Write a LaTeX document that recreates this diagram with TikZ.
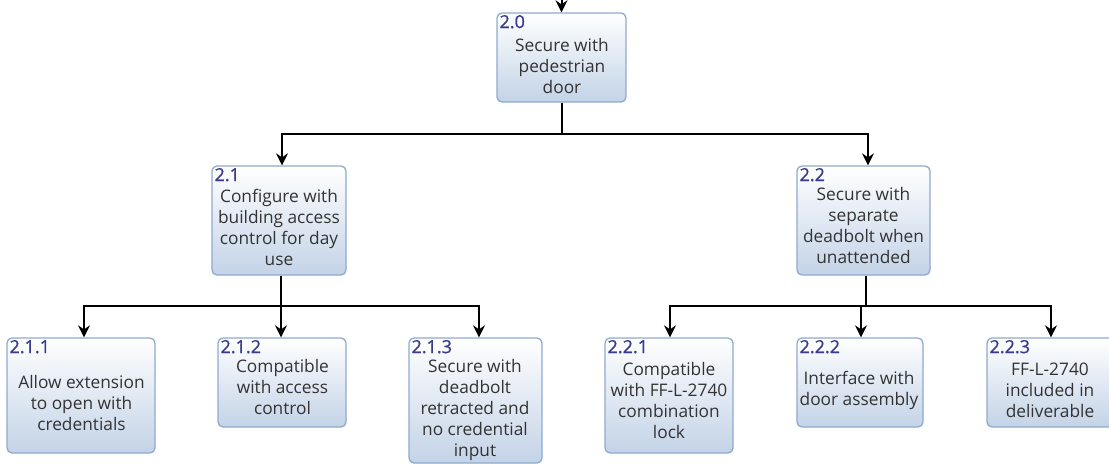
\documentclass[tikz,border=0pt]{standalone}
\usepackage{fontspec}
\setmainfont{Open Sans}
\newfontfamily\numfont[FakeBold=0.8]{Open Sans}
\usetikzlibrary{arrows.meta,calc}

\definecolor{boxedge}{HTML}{8EAACE}
\definecolor{boxbot}{HTML}{C3D3E7}
\definecolor{numblue}{HTML}{3A3A8E}
\definecolor{txtgray}{HTML}{333333}

\begin{document}
\begin{tikzpicture}[x=1pt,y=-1pt,
  box/.style={draw=boxedge, line width=1.3pt, rounded corners=5pt,
    top color=white, bottom color=boxbot, inner sep=0pt},
  body/.style={align=center, text=txtgray, inner sep=0pt,
    font=\fontsize{17.3}{21}\selectfont},
  num/.style={anchor=north west, text=numblue, inner sep=0pt,
    font=\numfont\fontsize{18}{18}\selectfont},
  wire/.style={line width=2pt, line join=miter},
  arr/.style={wire, -{Stealth[length=12pt,width=12pt,inset=4pt]}}]

\useasboundingbox (0,0) rectangle (1109,464);

% boxes
\node[box, minimum width=129pt, minimum height=89pt]  (n20)  at (561.5,57.5) {};
\node[box, minimum width=134pt, minimum height=109pt] (n21)  at (279,220.5) {};
\node[box, minimum width=133pt, minimum height=109pt] (n22)  at (863.5,220.5) {};
\node[box, minimum width=148pt, minimum height=115pt] (n211) at (81,395.5) {};
\node[box, minimum width=128pt, minimum height=89pt]  (n212) at (282,382.5) {};
\node[box, minimum width=133pt, minimum height=125pt] (n213) at (475.5,400.5) {};
\node[box, minimum width=128pt, minimum height=115pt] (n221) at (669,395.5) {};
\node[box, minimum width=126pt, minimum height=89pt]  (n222) at (860,382.5) {};
\node[box, minimum width=128pt, minimum height=89pt]  (n223) at (1051,382.5) {};

% numbers
\node[num] (l20)  at ($(n20.north west)+(3,2.5)$)  {2.0};
\node[num] (l21)  at ($(n21.north west)+(3,2.5)$)  {2.1};
\node[num] (l22)  at ($(n22.north west)+(3,2.5)$)  {2.2};
\node[num] (l211) at ($(n211.north west)+(3,2.5)$) {2.1.1};
\node[num] (l212) at ($(n212.north west)+(3,2.5)$) {2.1.2};
\node[num] (l213) at ($(n213.north west)+(3,2.5)$) {2.1.3};
\node[num] (l221) at ($(n221.north west)+(3,2.5)$) {2.2.1};
\node[num] (l222) at ($(n222.north west)+(3,2.5)$) {2.2.2};
\node[num] (l223) at ($(n223.north west)+(3,2.5)$) {2.2.3};

% texts
\node[body] (t20)  at ($(n20.center)+(0.5,8.5)$)  {Secure with\\pedestrian\\door};
\node[body] (t21)  at ($(n21.center)+(0,6.5)$)    {Configure with\\building access\\control for day\\use};
\node[body] (t22)  at ($(n22.center)+(0,5.5)$)    {Secure with\\separate\\deadbolt when\\unattended};
\node[body] (t211) at ($(n211.center)+(0.5,7.5)$) {Allow extension\\to open with\\credentials};
\node[body] (t212) at ($(n212.center)+(0.5,5)$)   {Compatible\\with access\\control};
\node[body] (t213) at ($(n213.center)+(-0.5,9.5)$){Secure with\\deadbolt\\retracted and\\no credential\\input};
\node[body] (t221) at ($(n221.center)+(0,5.5)$)   {Compatible\\with FF-L-2740\\combination\\lock};
\node[body] (t222) at ($(n222.center)+(-1,7.5)$)  {Interface with\\door assembly};
\node[body] (t223) at ($(n223.center)+(-1,7.5)$)  {FF-L-2740\\included in\\deliverable};

% bus points
\coordinate (in0) at (561.5,-20);
\coordinate (b0) at (561.5,134);
\coordinate (b1) at (281,306);
\coordinate (b2) at (866,306);

% connectors
\draw[arr] (in0) -- (n20.north);
\draw[wire] (n20.south) -- (b0);
\draw[arr] (b0) -| ([xshift=3pt]n21.north);
\draw[arr] (b0) -| ([xshift=4.5pt]n22.north);

\draw[wire] (n21.south -| b1) -- (b1);
\draw[arr] (b1) -| ([xshift=3pt]n211.north);
\draw[arr] (b1) -- (n212.north -| b1);
\draw[arr] (b1) -| ([xshift=3.5pt]n213.north);

\draw[wire] (n22.south -| b2) -- (b2);
\draw[arr] (b2) -| ([xshift=1pt]n221.north);
\draw[arr] (b2) -| ([xshift=1pt]n222.north);
\draw[arr] (b2) -| (n223.north);
\end{tikzpicture}
\end{document}
